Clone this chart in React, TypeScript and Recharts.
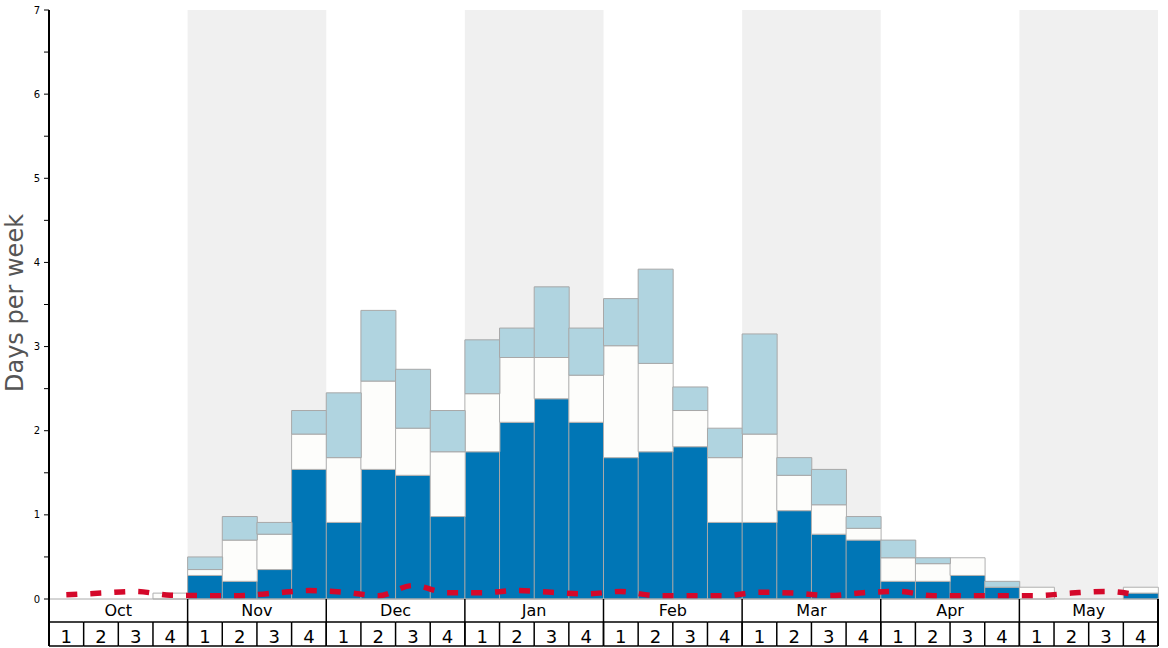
import {
  ComposedChart,
  Bar,
  Line,
  XAxis,
  YAxis,
  ReferenceArea,
} from 'recharts';

const months = ['Oct', 'Nov', 'Dec', 'Jan', 'Feb', 'Mar', 'Apr', 'May'];
const weeks = [1, 2, 3, 4];

// stacked segments, days per week
const deepDays = [
  0, 0, 0, 0,
  0.28, 0.21, 0.35, 1.54,
  0.91, 1.54, 1.47, 0.98,
  1.75, 2.1, 2.38, 2.1,
  1.68, 1.75, 1.81, 0.91,
  0.91, 1.05, 0.77, 0.7,
  0.21, 0.21, 0.28, 0.14,
  0, 0, 0, 0.07,
];
const midDays = [
  0, 0, 0, 0.07,
  0.07, 0.49, 0.42, 0.42,
  0.77, 1.05, 0.56, 0.77,
  0.69, 0.77, 0.49, 0.56,
  1.33, 1.05, 0.43, 0.77,
  1.05, 0.42, 0.35, 0.14,
  0.28, 0.21, 0.21, 0,
  0.14, 0, 0, 0.07,
];
const lightDays = [
  0, 0, 0, 0,
  0.15, 0.28, 0.14, 0.28,
  0.77, 0.84, 0.7, 0.49,
  0.64, 0.35, 0.84, 0.56,
  0.56, 1.12, 0.28, 0.35,
  1.19, 0.21, 0.42, 0.14,
  0.21, 0.07, 0, 0.07,
  0, 0, 0, 0,
];
const avgDays = [
  0.05, 0.07, 0.09, 0.045,
  0.04, 0.04, 0.07, 0.1,
  0.08, 0.04, 0.16, 0.075,
  0.075, 0.1, 0.08, 0.06,
  0.09, 0.04, 0.04, 0.04,
  0.08, 0.07, 0.04, 0.075,
  0.09, 0.04, 0.04, 0.04,
  0.04, 0.07, 0.09, 0.04,
];
const shadedMonths = ['Nov', 'Jan', 'Mar', 'May'];
const yTicks = [0, 0.5, 1, 1.5, 2, 2.5, 3, 3.5, 4, 4.5, 5, 5.5, 6, 6.5, 7];

const data = months.flatMap((m, mi) =>
  weeks.map((w, wi) => {
    const i = mi * 4 + wi;
    return {
      key: `${m}-${w}`,
      month: m,
      week: w,
      deep: deepDays[i],
      mid: midDays[i],
      light: lightDays[i],
      avg: avgDays[i],
    };
  })
);

const W = 1168;
const H = 648;
const LEFT = 49;
const RIGHT = 1158;
const TOP = 10;
const BOTTOM = 599;
const BAND = (RIGHT - LEFT) / data.length;
const FONT = '"DejaVu Sans", sans-serif';

const XTick = ({ x, payload, index }: any) => {
  const d = data[index] || data.find((r) => r.key === payload.value);
  const i = index ?? data.indexOf(d);
  const left = x - BAND / 2;
  const right = x + BAND / 2;
  return (
    <g>
      <line x1={left} x2={right} y1={622} y2={622} stroke="#000" strokeWidth={1.5} />
      <line x1={left} x2={right} y1={646} y2={646} stroke="#000" strokeWidth={1.5} />
      <line x1={left} x2={left} y1={622} y2={646} stroke="#000" strokeWidth={1.5} />
      {i === data.length - 1 && (
        <line x1={right} x2={right} y1={BOTTOM} y2={646} stroke="#000" strokeWidth={2} />
      )}
      <text x={x} y={643} textAnchor="middle" fontSize={18} fontFamily={FONT} fill="#000">
        {d.week}
      </text>
      {d.week === 1 && (
        <>
          <line x1={left} x2={left} y1={BOTTOM} y2={646} stroke="#000" strokeWidth={i === 0 ? 2 : 1.5} />
          <text x={left + BAND * 2} y={616} textAnchor="middle" fontSize={16} fontFamily={FONT} fill="#000">
            {d.month}
          </text>
        </>
      )}
    </g>
  );
};

const YTick = ({ y, payload }: any) => {
  const v = payload.value;
  return (
    <g>
      <line x1={LEFT - 5} x2={LEFT} y1={y} y2={y} stroke="#000" strokeWidth={1} />
      {Number.isInteger(v) && (
        <text x={LEFT - 9} y={y + 3.5} textAnchor="end" fontSize={10} fontFamily={FONT} fill="#000">
          {v}
        </text>
      )}
    </g>
  );
};

const YLabel = () => (
  <text
    x={23}
    y={303}
    transform="rotate(-90, 23, 303)"
    textAnchor="middle"
    fontSize={24}
    fontFamily={FONT}
    fill="#555"
  >
    Days per week
  </text>
);

export default function App() {
  return (
    <div style={{ position: 'absolute', left: 0, top: 0, width: W, height: H, background: '#fff' }}>
      <ComposedChart
        width={W}
        height={H}
        data={data}
        margin={{ top: TOP, right: W - RIGHT, bottom: 0, left: 0 }}
        barCategoryGap={0}
        barGap={0}
      >
        <XAxis
          dataKey="key"
          interval={0}
          height={H - BOTTOM}
          tickLine={false}
          axisLine={{ stroke: '#aaa', strokeWidth: 1 }}
          tick={<XTick />}
        />
        <XAxis xAxisId="top" dataKey="key" orientation="top" height={0} tick={false} tickLine={false} axisLine={{ stroke: '#000', strokeWidth: 2 }} />
        <YAxis
          domain={[0, 7]}
          ticks={yTicks}
          interval={0}
          width={LEFT}
          tickLine={false}
          axisLine={{ stroke: '#000', strokeWidth: 2 }}
          tick={<YTick />}
          label={{ content: () => <YLabel /> }}
        />
        <YAxis yAxisId="right" orientation="right" width={0} tick={false} tickLine={false} axisLine={{ stroke: '#000', strokeWidth: 2 }} />
        {shadedMonths.map((m) => (
          <ReferenceArea key={m} x1={`${m}-1`} x2={`${m}-4`} fill="#f0f0f0" fillOpacity={1} stroke="none" />
        ))}
        <Bar dataKey="deep" stackId="a" fill="#0076b6" stroke="#a8a8a8" strokeWidth={1} isAnimationActive={false} />
        <Bar dataKey="mid" stackId="a" fill="#fdfdfb" stroke="#b0b0b0" strokeWidth={1} isAnimationActive={false} />
        <Bar dataKey="light" stackId="a" fill="#b0d4e0" stroke="#a8a8a8" strokeWidth={1} isAnimationActive={false} />
        <Line
          dataKey="avg"
          type="monotone"
          stroke="#d4082a"
          strokeWidth={5.5}
          strokeDasharray="11 13"
          dot={false}
          activeDot={false}
          isAnimationActive={false}
        />
      </ComposedChart>
    </div>
  );
}
